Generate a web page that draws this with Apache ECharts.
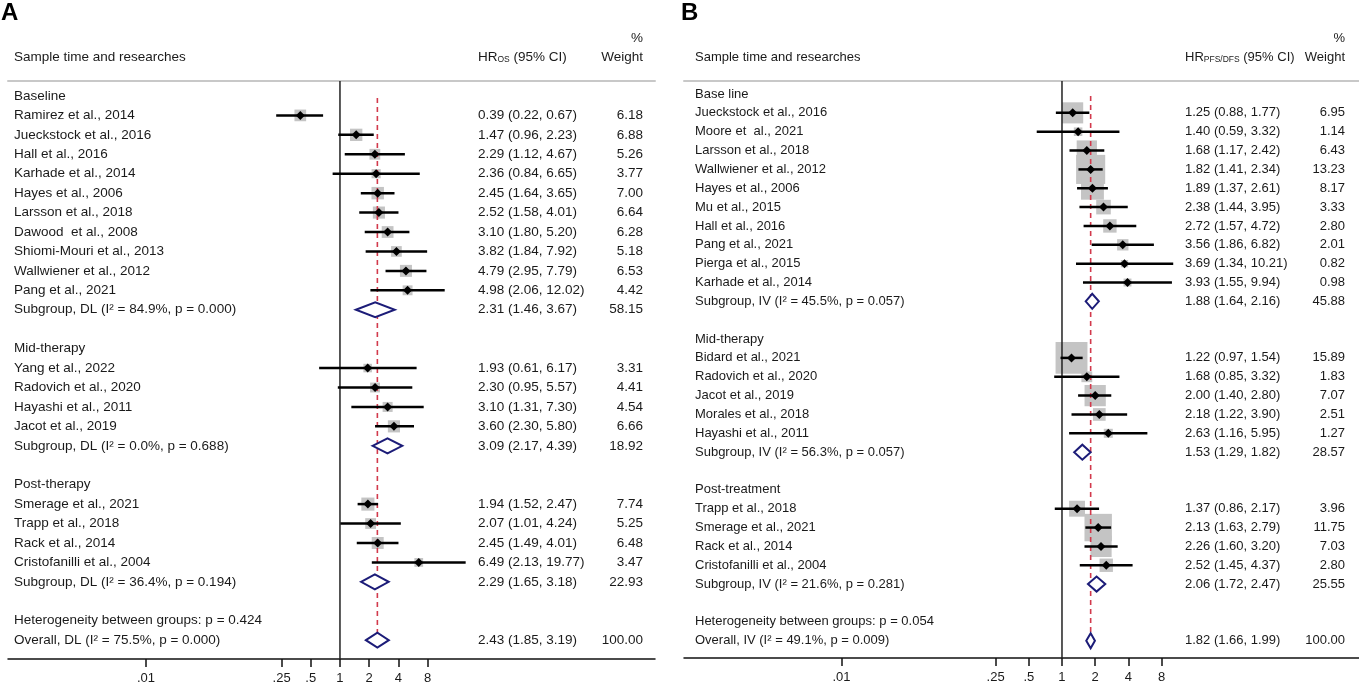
<!DOCTYPE html>
<html>
<head>
<meta charset="utf-8">
<script src="https://cdn.jsdelivr.net/npm/echarts@6/dist/echarts.min.js"></script>
<style>
html, body { margin: 0; padding: 0; background: #fff; }
#chart { width: 1359px; height: 685px; }
</style>
</head>
<body>
<div id="chart"></div>
<script>
// ---- panel A : OS ----
var labelsA = ['Baseline', 'Ramirez et al., 2014', 'Jueckstock et al., 2016', 'Hall et al., 2016', 'Karhade et al., 2014',
    'Hayes et al., 2006', 'Larsson et al., 2018', 'Dawood  et al., 2008', 'Shiomi-Mouri et al., 2013', 'Wallwiener et al., 2012',
    'Pang et al., 2021', 'Subgroup, DL (I\u00b2 = 84.9%, p = 0.000)', '',
    'Mid-therapy', 'Yang et al., 2022', 'Radovich et al., 2020', 'Hayashi et al., 2011', 'Jacot et al., 2019',
    'Subgroup, DL (I\u00b2 = 0.0%, p = 0.688)', '',
    'Post-therapy', 'Smerage et al., 2021', 'Trapp et al., 2018', 'Rack et al., 2014', 'Cristofanilli et al., 2004',
    'Subgroup, DL (I\u00b2 = 36.4%, p = 0.194)', '',
    'Heterogeneity between groups: p = 0.424', 'Overall, DL (I\u00b2 = 75.5%, p = 0.000)'];
var kindA = ['h', 's', 's', 's', 's', 's', 's', 's', 's', 's', 's', 'd', '', 'h', 's', 's', 's', 's', 'd', '',
    'h', 's', 's', 's', 's', 'd', '', 't', 'o'];
var hrA = [null, 0.39, 1.47, 2.29, 2.36, 2.45, 2.52, 3.10, 3.82, 4.79, 4.98, 2.31, null,
    null, 1.93, 2.30, 3.10, 3.60, 3.09, null, null, 1.94, 2.07, 2.45, 6.49, 2.29, null, null, 2.43];
var lowA = [null, 0.22, 0.96, 1.12, 0.84, 1.64, 1.58, 1.80, 1.84, 2.95, 2.06, 1.46, null,
    null, 0.61, 0.95, 1.31, 2.30, 2.17, null, null, 1.52, 1.01, 1.49, 2.13, 1.65, null, null, 1.85];
var highA = [null, 0.67, 2.23, 4.67, 6.65, 3.65, 4.01, 5.20, 7.92, 7.79, 12.02, 3.67, null,
    null, 6.17, 5.57, 7.30, 5.80, 4.39, null, null, 2.47, 4.24, 4.01, 19.77, 3.18, null, null, 3.19];
var weightA = [null, 6.18, 6.88, 5.26, 3.77, 7.00, 6.64, 6.28, 5.18, 6.53, 4.42, 58.15, null,
    null, 3.31, 4.41, 4.54, 6.66, 18.92, null, null, 7.74, 5.25, 6.48, 3.47, 22.93, null, null, 100.00];

// ---- panel B : PFS/DFS ----
var labelsB = ['Base line', 'Jueckstock et al., 2016', 'Moore et  al., 2021', 'Larsson et al., 2018', 'Wallwiener et al., 2012',
    'Hayes et al., 2006', 'Mu et al., 2015', 'Hall et al., 2016', 'Pang et al., 2021', 'Pierga et al., 2015', 'Karhade et al., 2014',
    'Subgroup, IV (I\u00b2 = 45.5%, p = 0.057)', '',
    'Mid-therapy', 'Bidard et al., 2021', 'Radovich et al., 2020', 'Jacot et al., 2019', 'Morales et al., 2018', 'Hayashi et al., 2011',
    'Subgroup, IV (I\u00b2 = 56.3%, p = 0.057)', '',
    'Post-treatment', 'Trapp et al., 2018', 'Smerage et al., 2021', 'Rack et al., 2014', 'Cristofanilli et al., 2004',
    'Subgroup, IV (I\u00b2 = 21.6%, p = 0.281)', '',
    'Heterogeneity between groups: p = 0.054', 'Overall, IV (I\u00b2 = 49.1%, p = 0.009)'];
var kindB = ['h', 's', 's', 's', 's', 's', 's', 's', 's', 's', 's', 'd', '', 'h', 's', 's', 's', 's', 's', 'd', '',
    'h', 's', 's', 's', 's', 'd', '', 't', 'o'];
var hrB = [null, 1.25, 1.40, 1.68, 1.82, 1.89, 2.38, 2.72, 3.56, 3.69, 3.93, 1.88, null,
    null, 1.22, 1.68, 2.00, 2.18, 2.63, 1.53, null, null, 1.37, 2.13, 2.26, 2.52, 2.06, null, null, 1.82];
var lowB = [null, 0.88, 0.59, 1.17, 1.41, 1.37, 1.44, 1.57, 1.86, 1.34, 1.55, 1.64, null,
    null, 0.97, 0.85, 1.40, 1.22, 1.16, 1.29, null, null, 0.86, 1.63, 1.60, 1.45, 1.72, null, null, 1.66];
var highB = [null, 1.77, 3.32, 2.42, 2.34, 2.61, 3.95, 4.72, 6.82, 10.21, 9.94, 2.16, null,
    null, 1.54, 3.32, 2.80, 3.90, 5.95, 1.82, null, null, 2.17, 2.79, 3.20, 4.37, 2.47, null, null, 1.99];
var weightB = [null, 6.95, 1.14, 6.43, 13.23, 8.17, 3.33, 2.80, 2.01, 0.82, 0.98, 45.88, null,
    null, 15.89, 1.83, 7.07, 2.51, 1.27, 28.57, null, null, 3.96, 11.75, 7.03, 2.80, 25.55, null, null, 100.00];

// x axis ticks (hazard ratio, log scale)
var tickVals = [0.01, 0.25, 0.5, 1, 2, 4, 8];
var tickLabels = ['.01', '.25', '.5', '1', '2', '4', '8'];

var FONT = 'Liberation Sans, Arial, sans-serif';
var TXT = '#1a1a1a';

var panels = [
    { letter: 'A', sub: 'OS', labels: labelsA, kind: kindA, hr: hrA, lo: lowA, hi: highA, w: weightA,
      grid: { left: 8, top: 81, width: 647, height: 578 }, xMin: -11.37, xMax: 10.79, yMin: -0.77, yMax: 28.97,
      fs: 13.5, nameX: 6, ciX: 470, wX: 635, boxK: 4.7, letterX: 1 },
    { letter: 'B', sub: 'PFS/DFS', labels: labelsB, kind: kindB, hr: hrB, lo: lowB, hi: highB, w: weightB,
      grid: { left: 684, top: 81, width: 675, height: 577 }, xMin: -11.39, xMax: 8.95, yMin: -0.69, yMax: 29.92,
      fs: 13, nameX: 11, ciX: 501, wX: 661, boxK: 8, letterX: 681 }
];

function lg(v) { return Math.log(v) / Math.LN2; }
function fmt(v) { return v.toFixed(2); }

var grids = [], xAxes = [], yAxes = [], series = [], graphics = [];

panels.forEach(function (p, i) {
    grids.push(p.grid);
    var tv = tickVals.map(lg);
    // bottom axis
    xAxes.push({
        type: 'value', gridIndex: i, min: p.xMin, max: p.xMax, position: 'bottom',
        splitLine: { show: false },
        axisLine: { onZero: false, lineStyle: { color: '#111', width: 1.5 } },
        axisTick: { customValues: tv, length: 8, lineStyle: { color: '#111', width: 1.5 } },
        axisLabel: {
            customValues: tv, margin: 13, fontSize: 13, color: TXT, fontFamily: FONT,
            formatter: function (v) {
                for (var k = 0; k < tickVals.length; k++) {
                    if (Math.abs(lg(tickVals[k]) - v) < 1e-6) return tickLabels[k];
                }
                return '';
            }
        }
    });
    // grey line under the header
    xAxes.push({
        type: 'value', gridIndex: i, min: p.xMin, max: p.xMax, position: 'top',
        splitLine: { show: false }, axisTick: { show: false }, axisLabel: { show: false },
        axisLine: { onZero: false, lineStyle: { color: '#c8c8c8', width: 2 } }
    });
    yAxes.push({ type: 'value', gridIndex: i, inverse: true, min: p.yMin, max: p.yMax, show: false });

    var xi = i * 2;
    var studyRows = [], diaRows = [], textRows = [], lastRow = 0;
    p.kind.forEach(function (k, r) {
        if (k === 's') studyRows.push([lg(p.lo[r]), lg(p.hi[r]), lg(p.hr[r]), r, p.w[r]]);
        if (k === 'd' || k === 'o') diaRows.push([lg(p.lo[r]), lg(p.hr[r]), lg(p.hi[r]), r]);
        if (k === 'o') lastRow = r;
        if (k !== '') textRows.push([0, r]);
    });
    var overallX = lg(p.hr[lastRow]);

    // weighted boxes
    series.push({
        type: 'custom', xAxisIndex: xi, yAxisIndex: i, z: 1, silent: true, data: studyRows,
        renderItem: function (params, api) {
            var c = api.coord([api.value(2), api.value(3)]);
            var s = p.boxK * Math.sqrt(api.value(4));
            return { type: 'rect', shape: { x: c[0] - s / 2, y: c[1] - s / 2, width: s, height: s },
                style: { fill: '#c4c4c4' } };
        }
    });
    // line of no effect (HR = 1)
    series.push({
        type: 'custom', xAxisIndex: xi, yAxisIndex: i, z: 2, silent: true, data: [[0, p.yMin, p.yMax]],
        renderItem: function (params, api) {
            var a = api.coord([api.value(0), api.value(1)]);
            var b = api.coord([api.value(0), api.value(2)]);
            return { type: 'line', shape: { x1: a[0], y1: a[1], x2: b[0], y2: b[1] },
                style: { stroke: '#222', lineWidth: 1.5 } };
        }
    });
    // overall effect dashed line
    series.push({
        type: 'custom', xAxisIndex: xi, yAxisIndex: i, z: 3, silent: true, data: [[overallX, 0.1, lastRow + 0.4]],
        renderItem: function (params, api) {
            var a = api.coord([api.value(0), api.value(1)]);
            var b = api.coord([api.value(0), api.value(2)]);
            return { type: 'line', shape: { x1: a[0], y1: a[1], x2: b[0], y2: b[1] },
                style: { stroke: '#d23a4c', lineWidth: 1.6, lineDash: [5, 4] } };
        }
    });
    // CI lines + point estimates
    series.push({
        type: 'custom', xAxisIndex: xi, yAxisIndex: i, z: 4, silent: true, data: studyRows,
        renderItem: function (params, api) {
            var a = api.coord([api.value(0), api.value(3)]);
            var b = api.coord([api.value(1), api.value(3)]);
            var c = api.coord([api.value(2), api.value(3)]);
            var d = 4.5;
            return { type: 'group', children: [
                { type: 'line', shape: { x1: a[0], y1: a[1], x2: b[0], y2: b[1] }, style: { stroke: '#000', lineWidth: 2.5 } },
                { type: 'polygon', shape: { points: [[c[0] - d, c[1]], [c[0], c[1] - d], [c[0] + d, c[1]], [c[0], c[1] + d]] },
                    style: { fill: '#000' } }
            ] };
        }
    });
    // subgroup / overall diamonds
    series.push({
        type: 'custom', xAxisIndex: xi, yAxisIndex: i, z: 5, silent: true, data: diaRows,
        renderItem: function (params, api) {
            var a = api.coord([api.value(0), api.value(3)]);
            var c = api.coord([api.value(1), api.value(3)]);
            var b = api.coord([api.value(2), api.value(3)]);
            var h = 7.5;
            return { type: 'polygon', shape: { points: [[a[0], a[1]], [c[0], c[1] - h], [b[0], b[1]], [c[0], c[1] + h]] },
                style: { fill: '#fff', stroke: '#1c1c78', lineWidth: 2 } };
        }
    });
    // text columns
    series.push({
        type: 'custom', xAxisIndex: xi, yAxisIndex: i, z: 6, silent: true, data: textRows,
        renderItem: function (params, api) {
            var r = api.value(1);
            var y = api.coord([0, r])[1];
            var x0 = params.coordSys.x;
            var base = { fill: TXT, fontSize: p.fs, fontFamily: FONT, verticalAlign: 'middle' };
            var kids = [{ type: 'text', x: x0 + p.nameX, y: y,
                style: Object.assign({ text: p.labels[r], align: 'left' }, base) }];
            if (p.hr[r] != null) {
                kids.push({ type: 'text', x: x0 + p.ciX, y: y,
                    style: Object.assign({ text: fmt(p.hr[r]) + ' (' + fmt(p.lo[r]) + ', ' + fmt(p.hi[r]) + ')', align: 'left' }, base) });
                kids.push({ type: 'text', x: x0 + p.wX, y: y,
                    style: Object.assign({ text: fmt(p.w[r]), align: 'right' }, base) });
            }
            return { type: 'group', children: kids };
        }
    });

    // headers
    var gx = p.grid.left;
    graphics.push({ type: 'text', x: p.letterX, y: 13,
        style: { text: p.letter, fontSize: 24, fontWeight: 'bold', fontFamily: FONT, fill: '#000', verticalAlign: 'middle' } });
    graphics.push({ type: 'text', x: gx + p.nameX, y: 57,
        style: { text: 'Sample time and researches', fontSize: p.fs, fontFamily: FONT, fill: TXT, verticalAlign: 'middle' } });
    graphics.push({ type: 'text', x: gx + p.ciX, y: 57,
        style: { text: '{a|HR}{b|' + p.sub + '}{a| (95% CI)}', verticalAlign: 'middle', fill: TXT,
            rich: { a: { fontSize: p.fs, fontFamily: FONT, fill: TXT },
                    b: { fontSize: 8.5, fontFamily: FONT, fill: TXT, padding: [5, 0, 0, 0] } } } });
    graphics.push({ type: 'text', x: gx + p.wX, y: 57,
        style: { text: 'Weight', align: 'right', fontSize: p.fs, fontFamily: FONT, fill: TXT, verticalAlign: 'middle' } });
    graphics.push({ type: 'text', x: gx + p.wX, y: 38,
        style: { text: '%', align: 'right', fontSize: p.fs, fontFamily: FONT, fill: TXT, verticalAlign: 'middle' } });
});

var myChart = echarts.init(document.getElementById('chart'));
var option = {
    backgroundColor: '#fff',
    animation: false,
    grid: grids,
    xAxis: xAxes,
    yAxis: yAxes,
    series: series,
    graphic: graphics
};
myChart.setOption(option);
</script>
</body>
</html>
